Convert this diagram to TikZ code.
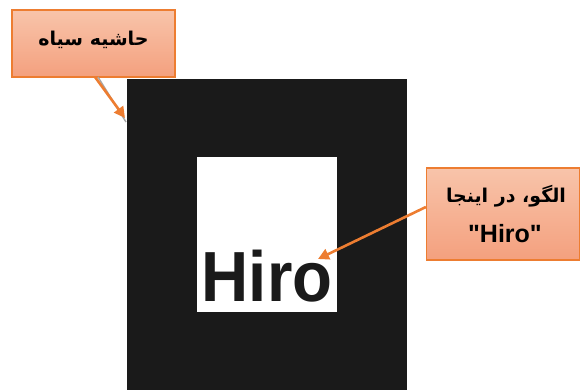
\documentclass[tikz,border=0pt]{standalone}
\usepackage{fontspec}
\setmainfont{Liberation Sans}[Ligatures=TeXOff]
\newfontfamily\arabicfont[Script=Arabic]{DejaVu Sans}
\TeXXeTstate=1
\definecolor{peachtop}{HTML}{F8C4AA}
\definecolor{peachbot}{HTML}{F4A07E}
\definecolor{orangeline}{HTML}{ED7D31}
\definecolor{markerblack}{HTML}{1A1A1A}
\usetikzlibrary{arrows.meta}
\tikzset{
  callout/.style={draw=orangeline, line width=1.2pt, top color=peachtop, bottom color=peachbot, inner sep=0pt},
  pointer/.style={draw=orangeline, line width=2.6pt, -{Triangle[length=11pt,width=11pt]}},
  pointershadow/.style={draw=gray!70, line width=1.4pt},
}
\begin{document}
\begin{tikzpicture}[x=1pt,y=-1pt]
\useasboundingbox (0,0) rectangle (582,390);
% marker
\fill[markerblack] (127,79) rectangle (407,390);
\fill[white] (197,157) rectangle (337,312);
\node[anchor=base, inner sep=0pt, font=\bfseries\fontsize{71}{71}\selectfont, xscale=0.92, text=markerblack] (hiro) at (267,302) {Hiro};
% callout 1
\node[callout, minimum width=163pt, minimum height=67pt] (lab1) at (93.5,43.5) {};
\node[font=\arabicfont\bfseries\fontsize{19}{19}\selectfont] (lab1text) at (93.5,40) {\beginR حاشیه سیاه\endR};
\coordinate (tip1) at (125,118);
\coordinate (start1) at (95,77);
\draw[pointershadow] ([xshift=3pt]start1) -- ([xshift=1pt,yshift=-4pt]tip1);
\draw[pointer] (start1) -- (tip1);
% callout 2
\node[callout, minimum width=153pt, minimum height=92pt] (lab2) at (503,214) {};
\node[font=\arabicfont\bfseries\fontsize{19}{19}\selectfont] (lab2a) at (506,196) {\beginR الگو، در اینجا\endR};
\node[font=\bfseries\fontsize{25}{25}\selectfont] (lab2b) at (505,234) {"Hiro"};
\coordinate (tip2) at (318,259);
\draw[pointer] (lab2.west |- 0,207) -- (tip2);
\end{tikzpicture}
\end{document}
